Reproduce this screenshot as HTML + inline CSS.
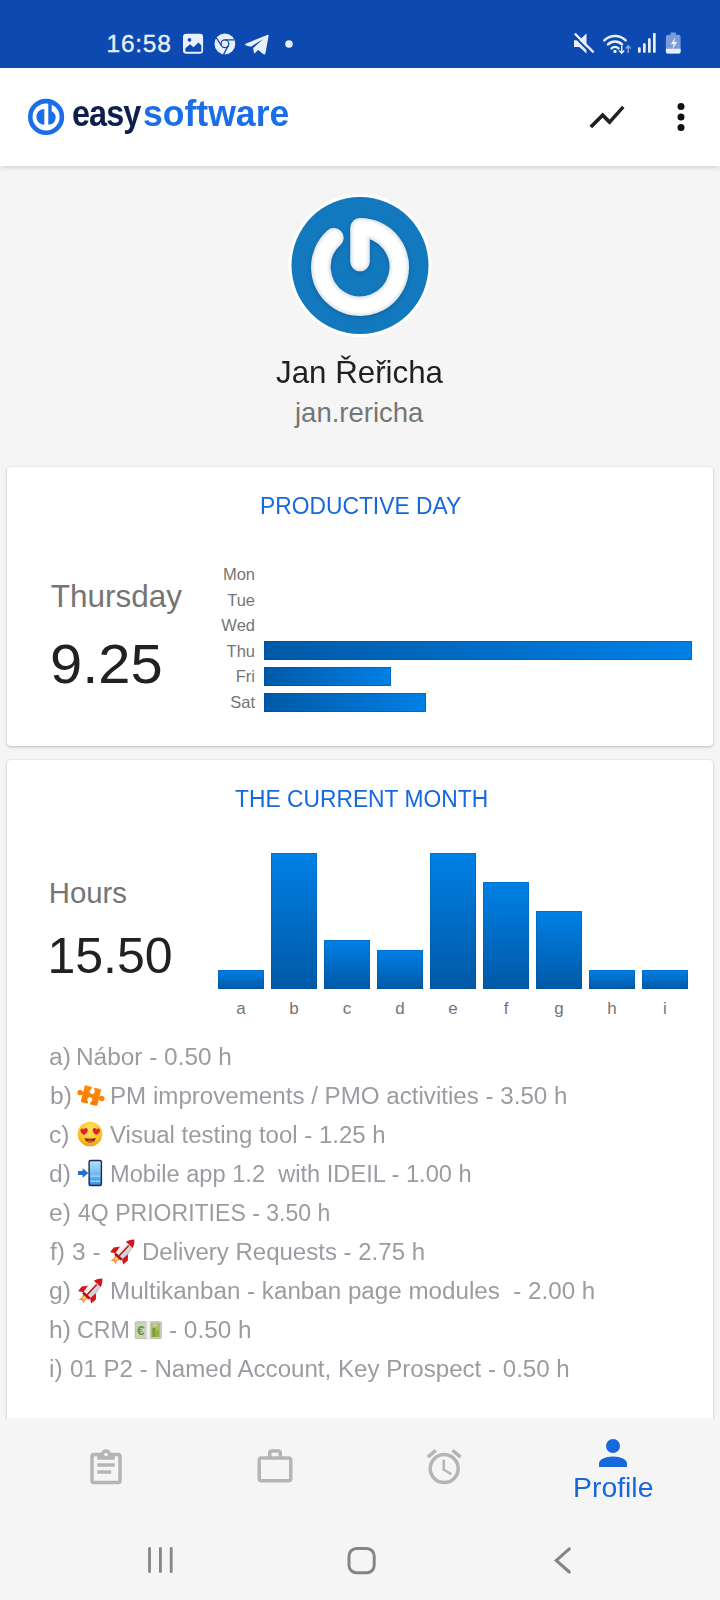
<!DOCTYPE html>
<html lang="en">
<head>
<meta charset="utf-8">
<meta name="viewport" content="width=720, initial-scale=1">
<title>Profile</title>
<style>
*{box-sizing:border-box;margin:0;padding:0}
html,body{width:720px;height:1600px;overflow:hidden;background:#f5f5f5;font-family:"Liberation Sans",sans-serif;}
body{position:relative}
.abs{position:absolute}
.t{position:absolute;white-space:nowrap;line-height:1}
#status{left:0;top:0;width:720px;height:68px;background:#0c49b0;z-index:2}
#appbar{left:0;top:68px;width:720px;height:98px;background:#fff;box-shadow:0 2px 5px rgba(0,0,0,.13)}
.card{position:absolute;left:7px;width:706px;background:#fff;border-radius:4px;box-shadow:0 1px 3px rgba(0,0,0,.22),0 0 2px rgba(0,0,0,.08)}
#card1{top:467px;height:279px}
#card2{top:760px;height:700px}
.title{color:#1768dc;font-size:23.5px}
.gray{color:#757575}
.dark{color:#212121}
.lbl{font-size:16.5px;color:#757575;text-align:right;width:60px;left:195px}
.hbar{position:absolute;left:264px;height:18.7px;background:linear-gradient(90deg,#0059a6,#0080e6);box-shadow:inset 0 0 0 1px rgba(0,70,140,.35)}
.vbar{position:absolute;width:46px;background:linear-gradient(180deg,#0080e6,#0059a6);box-shadow:inset 0 0 0 1px rgba(0,70,140,.25)}
.xl{font-size:17px;color:#757575;width:46px;text-align:center;top:999.6px}
.li{position:absolute;left:50px;width:640px;height:24px;font-size:23.3px;line-height:1;color:#9b9ca1;white-space:pre}
.li span{position:absolute;top:0;transform-origin:0 0;white-space:pre}
.em{position:absolute}
#bottomnav{left:0;top:1418px;width:720px;height:182px;background:#f5f5f5}
</style>
</head>
<body>

<!-- STATUS BAR -->
<div id="status" class="abs"></div>
<svg class="abs" style="left:0;top:0;z-index:3" width="720" height="67" viewBox="0 0 720 67">
 <g fill="#e9effb">
  <!-- image icon -->
  <rect x="183" y="33.700" width="20.100" height="20.100" rx="3.200"/>
  <!-- chrome icon -->
  <circle cx="224.900" cy="43.800" r="10.400"/>
  <!-- telegram -->
  <path d="M245.600 43.800L267.200 34.900c.9-.35 1.600.2 1.400 1.200L265.400 53.600c-.2 1-1 1.300-1.800.7L258 50.100 255 53c-.5.500-1.100.3-1.200-.4L253.200 48 263.200 39 250.900 46.800 246 45.400c-.9-.3-1-1.200-.4-1.600z"/>
  <circle cx="289" cy="44" r="3.800"/>
  <!-- mute speaker -->
  <path d="M574 40.300h5.300l7.200-6.700v20l-7.200-6.700H574z"/>
  <!-- signal -->
  <rect x="638" y="47.300" width="2.700" height="5.400" rx=".7"/>
  <rect x="643" y="43.300" width="2.700" height="9.400" rx=".7"/>
  <rect x="648" y="38.300" width="2.700" height="14.400" rx=".7"/>
  <rect x="653" y="33" width="2.700" height="19.700" rx=".7"/>
  <!-- battery -->
  <path d="M670.600 32.600h5.300v2.200h2.500a2.200 2.200 0 0 1 2.200 2.200v14.400a2.200 2.200 0 0 1-2.200 2.200h-10.300a2.200 2.200 0 0 1-2.200-2.200v-14.400a2.200 2.200 0 0 1 2.200-2.200h2.500z" opacity=".5"/>
  <path d="M665.900 48.800h14.700v2.600a2.200 2.200 0 0 1-2.200 2.200h-10.300a2.200 2.200 0 0 1-2.200-2.200z"/>
  <path d="M675.400 37.200l-4.700 7h3l-1.300 5 4.900-7.100h-3.100z"/>
 </g>
 <g fill="#0c49b0">
  <circle cx="189.500" cy="39.900" r="1.800"/>
  <path d="M185.400 51.100v-2.800l4.700-4 3.400 2.900 4.900-4.700 2.900 2.700v5.900a.6 .6 0 0 1-.6 .6h-14.700a.6 .6 0 0 1-.6-.6z"/>
 </g>
 <g fill="none" stroke="#0c49b0" stroke-width="1.300">
  <circle cx="224.900" cy="43.800" r="3.900"/>
  <path d="M224.900 39.900h9.600M221.500 45.750l-5.100-7.900M228.300 45.750l-4.600 8.400"/>
 </g>
 <path d="M574.800 33.600l18.800 18.800" stroke="#e9effb" stroke-width="2.300" fill="none"/>
 <path d="M573 35.200l18.800 18.800" stroke="#0c49b0" stroke-width="1.900" fill="none"/>
 <!-- wifi -->
 <g fill="none" stroke="#e9effb" stroke-width="2.500" stroke-linecap="round">
  <path d="M604.300 40.300a15.200 15.200 0 0 1 21.400 0"/>
  <path d="M608 44.400a10 10 0 0 1 14 0"/>
  <path d="M611.600 48.300a5 5 0 0 1 6.800 0"/>
 </g>
 <circle cx="615" cy="51.400" r="1.700" fill="#e9effb"/>
 <path d="M621.700 46v7M619.200 50.500l2.500 2.700 2.500-2.700" stroke="#e9effb" stroke-width="1.500" fill="none"/>
 <path d="M628.200 53v-7M625.700 48.500l2.500-2.700 2.500 2.700" stroke="#8aa5dd" stroke-width="1.500" fill="none"/>
</svg>

<div class="t" id="clock" style="z-index:3;left:106.5px;top:32px;font-size:24.5px;color:#e9effb;letter-spacing:.75px;-webkit-text-stroke:.35px #e9effb">16:58</div>

<!-- APP BAR -->
<div id="appbar" class="abs"></div>
<svg class="abs" style="left:0;top:67px" width="720" height="99" viewBox="0 67 720 99">
 <!-- logo mark -->
 <circle cx="46.100" cy="116.900" r="15.800" fill="none" stroke="#1a6ee8" stroke-width="4.600"/>
 <path d="M44.300 109v15.800a7.900 7.900 0 0 1 0-15.800z" fill="#1a6ee8"/>
 <path d="M48.300 102.500h3.400v8.700a7.200 7.200 0 0 1-3.400 13.600z" fill="#1a6ee8"/>
 <!-- show_chart -->
 <g transform="translate(586 96) scale(1.750)"><path d="M3.500 18.490l6-6.010 4 4L22 6.920l-1.410-1.410-7.090 7.970-4-4L2 16.990z" fill="#212121"/></g>
 <!-- more_vert -->
 <circle cx="681" cy="106.500" r="3.500" fill="#111"/><circle cx="681" cy="117" r="3.500" fill="#111"/><circle cx="681" cy="127.500" r="3.500" fill="#111"/>
</svg>
<div class="t" id="logo" style="left:0;top:95.6px;width:300px;height:36px;font-size:36px;font-weight:bold;color:#0e1f4d"><span style="position:absolute;left:72.4px;top:0;letter-spacing:-1px;transform:scaleX(.9);transform-origin:0 0">easy</span><span style="position:absolute;left:143px;top:0;color:#1a6ee8;transform:scaleX(.988);transform-origin:0 0">software</span></div>


<!-- PROFILE -->
<svg class="abs" style="left:280px;top:185px" width="160" height="160" viewBox="280 185 160 160">
 <defs><filter id="bl" x="-20%" y="-20%" width="140%" height="140%"><feGaussianBlur stdDeviation="1.300"/></filter><filter id="sh" x="-20%" y="-20%" width="140%" height="140%"><feDropShadow dx="0" dy="1.500" stdDeviation="2.500" flood-color="#003a66" flood-opacity=".35"/></filter></defs>
 <circle cx="360" cy="265.500" r="71.500" fill="#fff"/>
 <circle cx="360" cy="265.500" r="68.500" fill="#1379be"/>
 <path d="M360 261.500V227.800A39.200 39.200 0 1 1 333.900 237.800" fill="none" stroke="#e4e8ec" stroke-width="19.500" stroke-linecap="round" stroke-linejoin="round" filter="url(#sh)"/>
 <path d="M360 261.500V227.800A39.200 39.200 0 1 1 333.900 237.800" fill="none" stroke="#fff" stroke-width="14.500" stroke-linecap="round" stroke-linejoin="round" filter="url(#bl)"/>
</svg>

<div class="t dark" id="name" style="left:276px;top:355.9px;font-size:32px;transform:scaleX(.978);transform-origin:0 0">Jan Řeřicha</div>
<div class="t gray" id="user" style="left:295px;top:399.3px;font-size:27.5px">jan.rericha</div>

<!-- CARD 1 -->
<div class="card" id="card1"></div>
<div class="t title" id="t1" style="left:259.5px;top:494.7px;transform:scaleX(.971);transform-origin:0 0">PRODUCTIVE DAY</div>
<div class="t gray" id="thu" style="left:50.7px;top:580.5px;font-size:31.5px">Thursday</div>
<div class="t lbl" style="top:566.2px">Mon</div>
<div class="t lbl" style="top:591.6px">Tue</div>
<div class="t lbl" style="top:617.4px">Wed</div>
<div class="t lbl" style="top:643.0px">Thu</div>
<div class="t lbl" style="top:668.4px">Fri</div>
<div class="t lbl" style="top:694.4px">Sat</div>
<div class="hbar" style="top:641px;width:428px"></div>
<div class="hbar" style="top:667.2px;width:127px"></div>
<div class="hbar" style="top:693.1px;width:162px"></div>
<div class="t dark" id="n925" style="left:49.5px;top:637px;font-size:55.5px;transform:scaleX(1.043);transform-origin:0 0">9.25</div>

<!-- CARD 2 -->
<div class="card" id="card2"></div>
<div class="t title" id="t2" style="left:234.5px;top:787.5px;transform:scaleX(.971);transform-origin:0 0">THE CURRENT MONTH</div>
<div class="t gray" id="hours" style="left:48.8px;top:877.9px;font-size:29.3px">Hours</div>
<div class="t dark" id="n1550" style="left:47.5px;top:931px;font-size:50px">15.50</div>

<div class="vbar" style="left:218px;top:970.0px;height:18.6px"></div><div class="t xl" style="left:218px">a</div>
<div class="vbar" style="left:271px;top:852.7px;height:135.9px"></div><div class="t xl" style="left:271px">b</div>
<div class="vbar" style="left:324px;top:939.8px;height:48.8px"></div><div class="t xl" style="left:324px">c</div>
<div class="vbar" style="left:377px;top:949.8px;height:38.8px"></div><div class="t xl" style="left:377px">d</div>
<div class="vbar" style="left:430px;top:852.8px;height:135.8px"></div><div class="t xl" style="left:430px">e</div>
<div class="vbar" style="left:483px;top:881.7px;height:106.9px"></div><div class="t xl" style="left:483px">f</div>
<div class="vbar" style="left:536px;top:910.8px;height:77.8px"></div><div class="t xl" style="left:536px">g</div>
<div class="vbar" style="left:589px;top:970.0px;height:18.6px"></div><div class="t xl" style="left:589px">h</div>
<div class="vbar" style="left:642px;top:970.0px;height:18.6px"></div><div class="t xl" style="left:642px">i</div>
<!-- LIST -->
<svg width="0" height="0" style="position:absolute">
 <defs>
  <radialGradient id="gFace" cx="50%" cy="30%" r="75%"><stop offset="0" stop-color="#ffe65c"/><stop offset=".65" stop-color="#fcc524"/><stop offset="1" stop-color="#e8950f"/></radialGradient>
  <linearGradient id="gScr" x1="0" y1="0" x2="0" y2="1"><stop offset="0" stop-color="#b4defb"/><stop offset=".55" stop-color="#6db9f3"/><stop offset="1" stop-color="#3690e6"/></linearGradient>
  <linearGradient id="gPz" x1="0" y1="0" x2="0" y2="1"><stop offset="0" stop-color="#ff8c0a"/><stop offset="1" stop-color="#f47a00"/></linearGradient>
  <linearGradient id="gRk" x1="0" y1="0" x2="1" y2="0"><stop offset="0" stop-color="#ffffff"/><stop offset="1" stop-color="#c3c8d0"/></linearGradient>
  <g id="e-puzzle">
   <g transform="translate(14 14.600) rotate(14)">
    <rect x="-8.500" y="-8.700" width="17" height="17.400" rx="1.400" fill="url(#gPz)"/>
    <rect x="-10" y="-1.500" width="2" height="2.600" fill="#fb8205"/><circle cx="-11.300" cy="-.3" r="2.700" fill="#fb8205"/>
    <rect x="8" y="-1.100" width="2" height="2.600" fill="#fb8205"/><circle cx="11.300" cy=".3" r="2.700" fill="#fb8205"/>
    <circle cx=".2" cy="-4.300" r="2.500" fill="#fff"/><rect x="-1.100" y="-9" width="2.600" height="4" fill="#fff"/>
    <circle cx="-.2" cy="4.300" r="2.500" fill="#fff"/><rect x="-1.500" y="5" width="2.600" height="4" fill="#fff"/>
   </g>
  </g>
  <g id="e-hearteyes">
   <circle cx="14" cy="14" r="12.300" fill="url(#gFace)"/>
   <path d="M8.200 15c-3.100-1.700-4.300-3.600-3.700-5.300.6-1.600 2.600-1.700 3.500-.3.600-1.600 2.600-2 3.500-.5.900 1.600-.1 3.800-3.300 6.100z" fill="#e0222f"/>
   <path d="M20.200 15c3.100-1.700 4.300-3.600 3.700-5.300-.6-1.600-2.600-1.700-3.500-.3-.6-1.600-2.600-2-3.500-.5-.9 1.600.1 3.800 3.300 6.100z" fill="#e0222f"/>
   <path d="M8.800 18c3.400.9 7.400.9 10.800 0 .1 2.700-2.100 4.600-5.400 4.600s-5.500-1.900-5.400-4.600z" fill="#8a2a12"/>
   <path d="M10.600 21.300c1.100-.8 2.300-1.100 3.600-1.100s2.500.3 3.600 1.100c-.9.800-2.200 1.300-3.600 1.300s-2.700-.5-3.600-1.300z" fill="#e8503e"/>
  </g>
  <g id="e-phone">
   <rect x="12.400" y=".8" width="13.700" height="26.400" rx="2.200" fill="#1d2c48"/>
   <rect x="13.800" y="2.200" width="10.900" height="23.600" rx="1" fill="url(#gScr)"/>
   <rect x="14.600" y="16.600" width="9.300" height="1" fill="#cfe9fc" opacity=".8"/>
   <rect x="15" y="21.600" width="1.500" height="1.300" fill="#e6f4ff"/><rect x="17.400" y="21.600" width="1.500" height="1.300" fill="#e6f4ff"/><rect x="19.800" y="21.600" width="1.500" height="1.300" fill="#e6f4ff"/><rect x="22.200" y="21.600" width="1.500" height="1.300" fill="#e6f4ff"/>
   <path d="M2 12h4.600V9.300l5.800 4.700-5.800 4.700V16H2z" fill="#1e6fd8"/>
  </g>
  <g id="e-rocket">
   <g transform="translate(14.300 14.300) rotate(43)">
    <path d="M-3.300 8.300h6.600l-1.300 3.300 1.100 3.600-3-1.800-2.900 2.200 .8-4z" fill="#f6891f"/>
    <path d="M-1.800 8.300h3.600l-.7 2.500 .4 1.800-1.500-.9-1.400 1 .3-1.900z" fill="#ffd27a"/>
    <path d="M-4.800 -2L-9.600 3.600-9 9.800-4 6.400zM4.800 -2L9.600 3.600 9 9.800 4 6.400z" fill="#d3151d"/>
    <path d="M0-16.200C4.400-12 5.900-5.800 5.400 0L4.400 7h-8.800L-5.400 0C-5.900-5.800-4.400-12 0-16.200z" fill="url(#gRk)"/>
    <path d="M0-16.200c2.300 2.200 3.800 4.700 4.700 7.400h-9.400c.9-2.700 2.400-5.200 4.700-7.400z" fill="#d3151d"/>
    <rect x="-.8" y="-8" width="1.600" height="14" fill="#c2131a"/>
    <rect x="-4.500" y="6" width="9" height="2.600" rx=".6" fill="#b80f16"/>
   </g>
  </g>
  <g id="e-euro" transform="translate(.3 1)">
   <rect x="1" y="5.800" width="26" height="16.800" rx="1" fill="#cdd1bf" stroke="#a7ab99" stroke-width=".7"/>
   <rect x="16.600" y="7.300" width="9" height="13.800" fill="#a9bd6a"/>
   <rect x="18" y="12" width="3.200" height="9" fill="#7fa02f"/><rect x="22" y="14.500" width="2.600" height="6.500" fill="#8fae3c"/><rect x="18.500" y="7.800" width="4.500" height="3" fill="#c3cf93"/>
   <rect x="12.300" y="5" width="3.400" height="18.400" rx=".8" fill="#f2f3f0" stroke="#d9dbd4" stroke-width=".4"/>
   <text x="2.600" y="19" font-family="Liberation Sans, sans-serif" font-weight="bold" font-size="13.500" fill="#55a02c">€</text>
  </g>
 </defs>
</svg>
<div class="li" style="top:1045.8px"><span style="left:-0.8px;transform:scaleX(1.0600)">a)</span><span style="left:25.9px;transform:scaleX(1.0466)">Nábor - 0.50 h</span></div>
<div class="li" style="top:1084.8px"><span style="left:-0.3px;transform:scaleX(1.0600)">b)</span><svg class="em" role="img" aria-label="🧩" style="left:26.6px;top:-4.1px" width="28" height="28" viewBox="0 0 28 28"><use href="#e-puzzle"/></svg><span style="left:59.9px;transform:scaleX(1.0361)">PM improvements / PMO activities - 3.50 h</span></div>
<div class="li" style="top:1123.8px"><span style="left:-0.6px;transform:scaleX(1.0600)">c)</span><svg class="em" role="img" aria-label="😍" style="left:26.2px;top:-4.1px" width="28" height="28" viewBox="0 0 28 28"><use href="#e-hearteyes"/></svg><span style="left:59.7px;transform:scaleX(1.0297)">Visual testing tool - 1.25 h</span></div>
<div class="li" style="top:1162.8px"><span style="left:-0.6px;transform:scaleX(1.0600)">d)</span><svg class="em" role="img" aria-label="📲" style="left:26.4px;top:-4.1px" width="28" height="28" viewBox="0 0 28 28"><use href="#e-phone"/></svg><span style="left:59.7px;transform:scaleX(1.0144)">Mobile app 1.2  with IDEIL - 1.00 h</span></div>
<div class="li" style="top:1201.8px"><span style="left:-0.6px;transform:scaleX(1.0600)">e)</span><span style="left:27.5px;transform:scaleX(0.9892)">4Q PRIORITIES - 3.50 h</span></div>
<div class="li" style="top:1240.8px"><span style="left:0.4px;transform:scaleX(1.0600)">f)</span><span style="left:22.2px;transform:scaleX(1.0520)">3 -</span><svg class="em" role="img" aria-label="🚀" style="left:58.7px;top:-4.1px" width="28" height="28" viewBox="0 0 28 28"><use href="#e-rocket"/></svg><span style="left:92.1px;transform:scaleX(1.0310)">Delivery Requests - 2.75 h</span></div>
<div class="li" style="top:1279.8px"><span style="left:-0.6px;transform:scaleX(1.0600)">g)</span><svg class="em" role="img" aria-label="🚀" style="left:27.0px;top:-4.1px" width="28" height="28" viewBox="0 0 28 28"><use href="#e-rocket"/></svg><span style="left:59.6px;transform:scaleX(1.0379)">Multikanban - kanban page modules  - 2.00 h</span></div>
<div class="li" style="top:1318.8px"><span style="left:-0.7px;transform:scaleX(1.0600)">h)</span><span style="left:26.5px;transform:scaleX(0.9961)">CRM</span><svg class="em" role="img" aria-label="💶" style="left:84.3px;top:-4.1px" width="28" height="28" viewBox="0 0 28 28"><use href="#e-euro"/></svg><span style="left:119.0px;transform:scaleX(1.0442)">- 0.50 h</span></div>
<div class="li" style="top:1357.8px"><span style="left:-0.7px;transform:scaleX(1.0600)">i)</span><span style="left:20.2px;transform:scaleX(1.0346)">01 P2 - Named Account, Key Prospect - 0.50 h</span></div>
<!-- BOTTOM NAV -->
<div id="bottomnav" class="abs"></div>
<svg class="abs" style="left:0;top:1418px" width="720" height="182" viewBox="0 1418 720 182">
 <g fill="#b5b5b5">
  <g transform="translate(85 1447.500) scale(1.750)"><path d="M19,3H14.820C14.400,1.840 13.300,1 12,1C10.700,1 9.600,1.840 9.180,3H5A2,2 0 0,0 3,5V19A2,2 0 0,0 5,21H19A2,2 0 0,0 21,19V5A2,2 0 0,0 19,3M12,3A1,1 0 0,1 13,4A1,1 0 0,1 12,5A1,1 0 0,1 11,4A1,1 0 0,1 12,3M7,7H17V5H19V19H5V5H7V7M17,11H7V9H17V11M15,15H7V13H15V15Z"/></g>
  <g transform="translate(254 1445.800) scale(1.750)"><path d="M20,6C20.580,6 21.050,6.200 21.420,6.590C21.800,7 22,7.450 22,8V19C22,19.550 21.800,20 21.420,20.410C21.050,20.800 20.580,21 20,21H4C3.420,21 2.950,20.800 2.580,20.410C2.200,20 2,19.550 2,19V8C2,7.450 2.200,7 2.580,6.590C2.950,6.200 3.420,6 4,6H8V4C8,3.420 8.200,2.950 8.580,2.580C8.950,2.200 9.420,2 10,2H14C14.580,2 15.050,2.200 15.420,2.580C15.800,2.950 16,3.420 16,4V6H20M4,8V19H20V8H4M14,6V4H10V6H14Z"/></g>
  <g transform="translate(423.200 1445.800) scale(1.750)"><path d="M12,20A7,7 0 0,1 5,13A7,7 0 0,1 12,6A7,7 0 0,1 19,13A7,7 0 0,1 12,20M12,4A9,9 0 0,0 3,13A9,9 0 0,0 12,22A9,9 0 0,0 21,13A9,9 0 0,0 12,4M12.500,8H11V14L15.750,16.850L16.500,15.620L12.500,13.250V8M7.880,3.390L6.600,1.860L2,5.710L3.290,7.240L7.880,3.390M22,5.720L17.400,1.860L16.110,3.390L20.710,7.250L22,5.720Z"/></g>
 </g>
 <g transform="translate(592 1432) scale(1.750)"><path fill="#1768dc" d="M12,4A4,4 0 0,1 16,8A4,4 0 0,1 12,12A4,4 0 0,1 8,8A4,4 0 0,1 12,4M12,14C16.420,14 20,15.790 20,18V20H4V18C4,15.790 7.580,14 12,14Z"/></g>
 <!-- system nav -->
 <g fill="none" stroke="#858585" stroke-width="2.800" stroke-linecap="round">
  <path d="M149.500 1548.300V1571.700M160.400 1548.300V1571.700M171.200 1548.300V1571.700"/>
  <rect x="349" y="1548.400" width="25.200" height="24.400" rx="7.500" stroke-width="3"/>
  <path d="M569.300 1548.800L556.300 1560.400L569.300 1572" stroke-width="3.100" stroke-linejoin="miter"/>
 </g>
</svg>

<div class="t" id="profile" style="left:572.5px;top:1474.2px;font-size:27.3px;color:#1768dc;transform:scaleX(1.04);transform-origin:0 0">Profile</div>

</body>
</html>
